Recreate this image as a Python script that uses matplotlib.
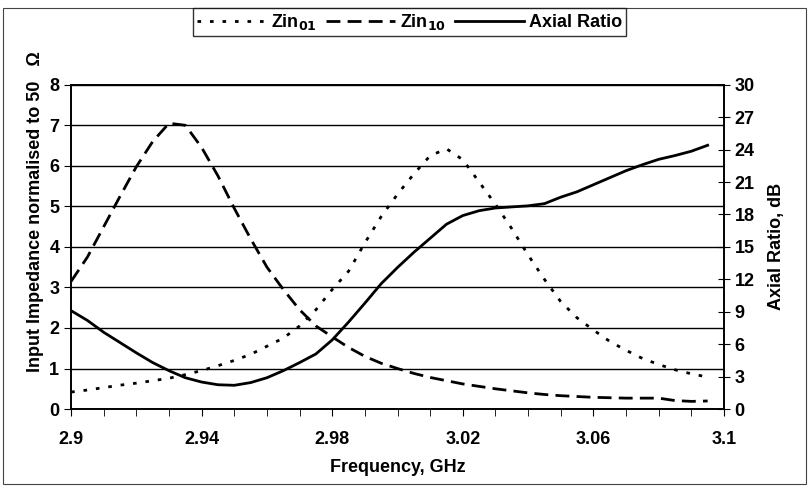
import matplotlib
matplotlib.use("Agg")
import matplotlib.pyplot as plt
from matplotlib.ticker import MultipleLocator
from matplotlib.patches import Rectangle

plt.rcParams["font.family"] = ["Liberation Sans", "DejaVu Sans"]
plt.rcParams["font.weight"] = "bold"

freq = [2.900, 2.905, 2.910, 2.915, 2.920, 2.925, 2.930, 2.935, 2.940, 2.945,
        2.950, 2.955, 2.960, 2.965, 2.970, 2.975, 2.980, 2.985, 2.990, 2.995,
        3.000, 3.005, 3.010, 3.015, 3.020, 3.025, 3.030, 3.035, 3.040, 3.045,
        3.050, 3.055, 3.060, 3.065, 3.070, 3.075, 3.080, 3.085, 3.090, 3.095]

zin01 = [0.42, 0.47, 0.53, 0.59, 0.64, 0.70, 0.76, 0.85, 0.95, 1.07,
         1.20, 1.35, 1.55, 1.75, 2.05, 2.45, 2.95, 3.40, 4.10, 4.75,
         5.30, 5.80, 6.25, 6.42, 6.15, 5.60, 5.05, 4.45, 3.80, 3.20,
         2.65, 2.25, 1.95, 1.67, 1.45, 1.25, 1.10, 0.97, 0.87, 0.79]

zin10 = [3.15, 3.75, 4.50, 5.25, 5.98, 6.60, 7.05, 7.00, 6.45, 5.75,
         4.95, 4.20, 3.50, 2.95, 2.45, 2.05, 1.78, 1.52, 1.30, 1.13,
         1.00, 0.88, 0.78, 0.70, 0.62, 0.56, 0.50, 0.45, 0.40, 0.36,
         0.33, 0.31, 0.29, 0.28, 0.27, 0.27, 0.27, 0.21, 0.19, 0.20]

axial_ratio = [9.1, 8.2, 7.1, 6.15, 5.2, 4.3, 3.55, 2.9, 2.5, 2.25,
               2.2, 2.45, 2.9, 3.55, 4.3, 5.1, 6.4, 8.05, 9.8, 11.6,
               13.1, 14.5, 15.8, 17.1, 17.9, 18.35, 18.6, 18.7, 18.8, 19.0,
               19.6, 20.1, 20.75, 21.4, 22.05, 22.6, 23.1, 23.45, 23.85, 24.4]

freq_ticks = [2.9, 2.94, 2.98, 3.02, 3.06, 3.1]
freq_labels = ["2.9", "2.94", "2.98", "3.02", "3.06", "3.1"]

fig = plt.figure(figsize=(8.08, 4.87), dpi=100)
ax = fig.add_axes([0.088, 0.160, 0.808, 0.666])
ax2 = ax.twinx()

l1, = ax.plot(freq, zin01, color="black", lw=2, linestyle=(0, (1.3, 3.2)))
l2, = ax.plot(freq, zin10, color="black", lw=2, linestyle=(0, (5, 2.6)))
l3, = ax2.plot(freq, axial_ratio, color="black", lw=2)

ax.set_xlim(2.9, 3.1)
ax.set_ylim(0, 8)
ax2.set_ylim(0, 30)
ax.set_xticks(freq_ticks, freq_labels)
ax.xaxis.set_minor_locator(MultipleLocator(0.01))
ax.yaxis.set_major_locator(MultipleLocator(1))
ax2.yaxis.set_major_locator(MultipleLocator(3))

ax.grid(axis="y", color="black", lw=1)
ax.set_axisbelow(True)
ax.tick_params(axis="x", which="both", direction="out", length=5, labelsize=13, pad=11)
ax.tick_params(axis="y", direction="out", length=5, labelsize=13)
ax2.tick_params(axis="y", direction="inout", length=8, labelsize=13)
for a in (ax, ax2):
    for s in a.spines.values():
        s.set_linewidth(1.2)

ax.set_xlabel("Frequency, GHz", fontsize=13, fontweight="bold", labelpad=8)
ax2.set_ylabel("Axial Ratio, dB", fontsize=13, fontweight="bold", labelpad=10)
fig.text(0.044, 0.565, "Input Impedance normalised to 50   \u03a9", rotation=90,
         ha="center", va="center", fontsize=13, fontweight="bold")

leg = fig.legend([l1, l2, l3], ["Zin$_{\\mathbf{01}}$", "Zin$_{\\mathbf{10}}$", "Axial Ratio"],
                 loc="center", bbox_to_anchor=(0.507, 0.955), ncol=3, fontsize=13,
                 frameon=True, fancybox=False, edgecolor="black", handlelength=3.8,
                 handletextpad=0.3, columnspacing=0.5, borderpad=0.2)
leg.get_frame().set_linewidth(1)

fig.patches.append(Rectangle((0.004, 0.006), 0.993, 0.978, transform=fig.transFigure,
                             fill=False, edgecolor="#444444", lw=0.8))

fig.savefig("out.png", dpi=100)
